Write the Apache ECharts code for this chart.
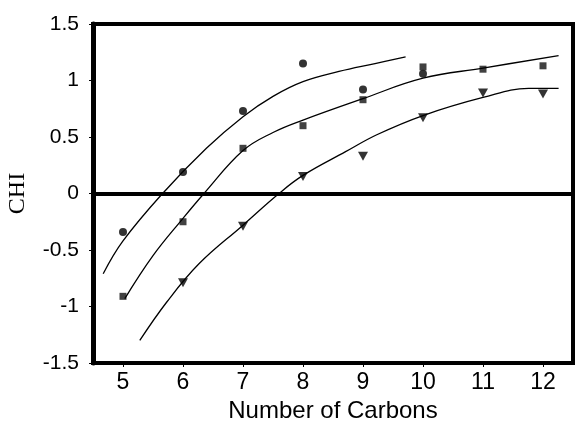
<!DOCTYPE html>
<html>
<head>
<meta charset="utf-8">
<script src="https://cdn.jsdelivr.net/npm/echarts@6/dist/echarts.min.js"></script>
<style>html,body{margin:0;padding:0;background:#fff}#c{width:578px;height:426px}</style>
</head>
<body>
<div id="c"></div>
<script>
// Measured points (x = number of carbons, y = CHI)
var circleX = [5, 6, 7, 8, 9, 10];
var circleY = [-0.34, 0.19, 0.73, 1.15, 0.92, 1.06];
var squareX = [5, 6, 7, 8, 9, 10, 11, 12];
var squareY = [-0.91, -0.25, 0.40, 0.60, 0.83, 1.12, 1.10, 1.13];
var triX = [6, 7, 8, 9, 10, 11, 12];
var triY = [-0.79, -0.29, 0.15, 0.33, 0.67, 0.89, 0.88];

// Fitted curves
var circleFitX = [4.67, 5.0, 5.66, 6.39, 7.0, 7.5, 8.0, 8.6, 9.2, 9.71];
var circleFitY = [-0.71, -0.42, 0.0, 0.40, 0.68, 0.86, 0.99, 1.08, 1.15, 1.21];
var squareFitX = [5.03, 5.5, 6.0, 6.35, 7.0, 7.5, 8.0, 9.0, 10.0, 11.0, 12.26];
var squareFitY = [-0.93, -0.55, -0.22, 0.0, 0.38, 0.54, 0.65, 0.84, 1.02, 1.11, 1.22];
var triFitX = [5.28, 5.73, 6.27, 7.0, 7.6, 8.0, 8.71, 9.23, 10.0, 11.0, 11.76, 12.26];
var triFitY = [-1.30, -0.96, -0.62, -0.28, 0.0, 0.16, 0.37, 0.52, 0.69, 0.85, 0.93, 0.93];

var xTicks = [5, 6, 7, 8, 9, 10, 11, 12];
var yTicks = [-1.5, -1, -0.5, 0, 0.5, 1, 1.5];

function pairs(xs, ys) { return xs.map(function (x, i) { return [x, ys[i]]; }); }

var chart = echarts.init(document.getElementById('c'), null, { renderer: 'canvas' });
var sans = 'Liberation Sans, Arial, sans-serif';
chart.setOption({
  animation: false,
  backgroundColor: '#fff',
  grid: { left: 93, right: 5, top: 24, bottom: 63, outerBoundsMode: 'none', containLabel: false,
    show: true, borderColor: '#000', borderWidth: 4, backgroundColor: 'transparent' },
  xAxis: {
    type: 'value', min: 4.5, max: 12.5,
    name: 'Number of Carbons', nameLocation: 'middle', nameGap: 36,
    nameTextStyle: { fontFamily: sans, fontSize: 24, color: '#000' },
    axisLine: { show: true, onZero: false, lineStyle: { color: '#000', width: 4 } },
    axisTick: { show: true, length: 4, customValues: xTicks, lineStyle: { color: '#000', width: 1 } },
    axisLabel: { fontFamily: sans, fontSize: 23, color: '#000', margin: 8, customValues: xTicks },
    splitLine: { show: false }
  },
  yAxis: {
    type: 'value', min: -1.5, max: 1.5, interval: 0.5,
    name: 'CHI', nameLocation: 'middle', nameGap: 63, nameRotate: 90,
    nameTextStyle: { fontFamily: 'Liberation Serif, Times New Roman, serif', fontSize: 24, color: '#000' },
    axisLine: { show: true, onZero: false, lineStyle: { color: '#000', width: 5 } },
    axisTick: { show: true, length: 4, customValues: yTicks, lineStyle: { color: '#000', width: 1 } },
    axisLabel: { fontFamily: sans, fontSize: 21, color: '#000', margin: 14, customValues: yTicks },
    splitLine: { show: false }
  },
  series: [
    { type: 'line', data: pairs(circleFitX, circleFitY), smooth: 0.4, showSymbol: false, lineStyle: { color: '#000', width: 1.3 },
      markLine: { silent: true, symbol: 'none', label: { show: false }, lineStyle: { color: '#000', width: 4, type: 'solid' }, data: [{ yAxis: 0 }] } },
    { type: 'line', data: pairs(squareFitX, squareFitY), smooth: 0.4, showSymbol: false, lineStyle: { color: '#000', width: 1.3 } },
    { type: 'line', data: pairs(triFitX, triFitY), smooth: 0.4, showSymbol: false, lineStyle: { color: '#000', width: 1.3 } },
    { type: 'scatter', data: pairs(circleX, circleY), symbol: 'circle', symbolSize: 8, itemStyle: { color: '#000' } },
    { type: 'scatter', data: pairs(squareX, squareY), symbol: 'rect', symbolSize: 7, itemStyle: { color: '#111' } },
    { type: 'scatter', data: pairs(triX, triY), symbol: 'triangle', symbolRotate: 180, symbolSize: [10, 9], itemStyle: { color: '#000' } }
  ]
});
</script>
</body>
</html>
